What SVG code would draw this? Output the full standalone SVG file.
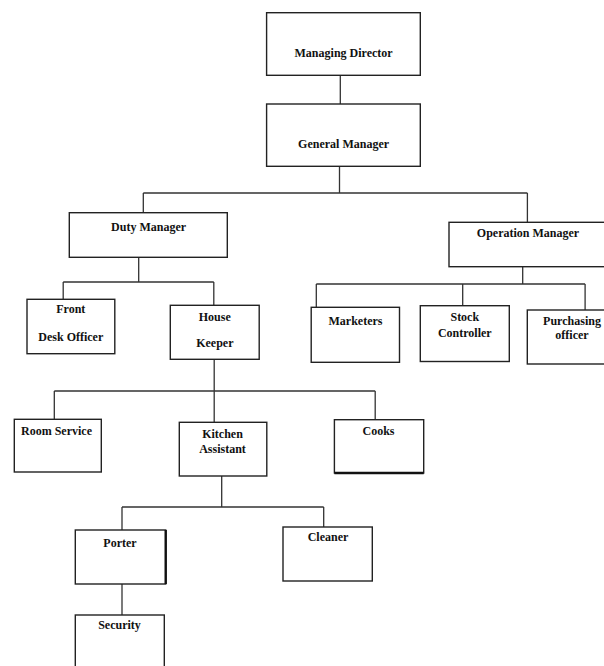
<svg xmlns="http://www.w3.org/2000/svg" width="604" height="666" viewBox="0 0 604 666">
<style>
.box{fill:#fff;stroke:#222;stroke-width:1.4}
.edge{fill:none;stroke:#333;stroke-width:1.3}
.thick{fill:none;stroke:#111;stroke-width:2.4}
text{font-family:'Liberation Serif','Times New Roman','DejaVu Serif',serif;font-weight:bold;font-size:12px;fill:#111;text-anchor:middle}
</style>
<rect width="604" height="666" fill="#fff"/>
<g id="connectors">
<path class="edge" d="M340.3,75.3V104"/>
<path class="edge" d="M339.5,166.3V193M143.3,193H527.4M143.3,193V212.7M527.4,193V222"/>
<path class="edge" d="M138.7,257.3V282M63.2,282H213.8M63.2,282V299.3M213.8,282V305.3"/>
<path class="edge" d="M522.7,266.7V284M316.3,284H585.1M316.3,284V307.3M462.7,284V305.7M585.1,284V310"/>
<path class="edge" d="M214.2,359.3V391M54.3,391H375.2M54.3,391V419.3M214.2,391V422.3M375.2,391V419.7"/>
<path class="edge" d="M221.7,476V507M122,507H323.7M122,507V530M323.7,507V527"/>
<path class="edge" d="M122,584V615"/>
</g>
<g font-family="Liberation Serif, serif">
<g id="managing-director">
<rect class="box" x="266.6" y="12.7" width="153.7" height="62.6"/>
<text x="343.6" y="56.5">Managing Director</text>
</g>
<g id="general-manager">
<rect class="box" x="266.6" y="104" width="153.7" height="62.3"/>
<text x="343.6" y="148">General Manager</text>
</g>
<g id="duty-manager">
<rect class="box" x="69.3" y="212.7" width="158" height="44.6"/>
<text x="148.6" y="230.5">Duty Manager</text>
</g>
<g id="operation-manager">
<rect class="box" x="449" y="222.3" width="158" height="44.4"/>
<text x="528" y="236.5">Operation Manager</text>
</g>
<g id="front-desk-officer">
<rect class="box" x="27" y="299.3" width="87.8" height="54.4"/>
<text x="70.8" y="312.5">Front</text>
<text x="70.8" y="341">Desk Officer</text>
</g>
<g id="house-keeper">
<rect class="box" x="170.3" y="305.3" width="88.9" height="54"/>
<text x="214.8" y="320.5">House</text>
<text x="214.8" y="347">Keeper</text>
</g>
<g id="marketers">
<rect class="box" x="311.2" y="307.3" width="88.3" height="55"/>
<text x="355.5" y="324.5">Marketers</text>
</g>
<g id="stock-controller">
<rect class="box" x="420.3" y="305.7" width="89" height="55.8"/>
<text x="464.8" y="321">Stock</text>
<text x="464.8" y="336.5">Controller</text>
</g>
<g id="purchasing-officer">
<rect class="box" x="527.3" y="310" width="90" height="54"/>
<text x="572" y="324.5">Purchasing</text>
<text x="572" y="339">officer</text>
</g>
<g id="room-service">
<rect class="box" x="14.3" y="419.3" width="87" height="52.7"/>
<text x="56.5" y="435">Room Service</text>
</g>
<g id="kitchen-assistant">
<rect class="box" x="179.3" y="422.3" width="87.5" height="53.7"/>
<text x="222.5" y="437.8">Kitchen</text>
<text x="222.5" y="452.8">Assistant</text>
</g>
<g id="cooks">
<rect class="box" x="334.4" y="419.7" width="89.3" height="53.3"/>
<path class="thick" d="M334.4,473H423.7"/>
<text x="378.5" y="435">Cooks</text>
</g>
<g id="porter">
<rect class="box" x="75.3" y="530" width="90.4" height="54"/>
<path class="thick" d="M165.7,530V584"/>
<text x="120" y="547">Porter</text>
</g>
<g id="cleaner">
<rect class="box" x="283" y="527" width="89.3" height="54"/>
<text x="328" y="541">Cleaner</text>
</g>
<g id="security">
<rect class="box" x="75.3" y="615" width="89" height="70"/>
<text x="119.5" y="629">Security</text>
</g>
</g>
</svg>
